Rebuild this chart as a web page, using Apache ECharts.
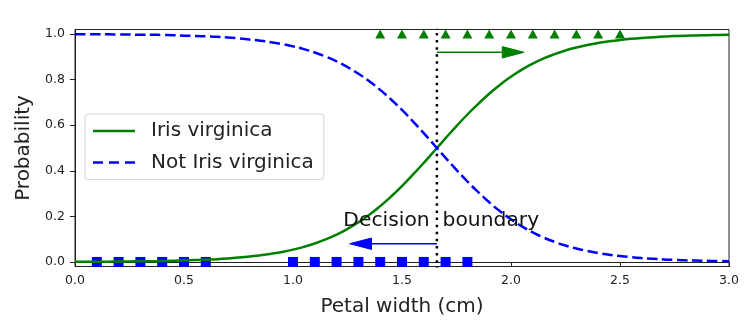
<!DOCTYPE html>
<html>
<head>
<meta charset="utf-8">
<script src="https://cdn.jsdelivr.net/npm/echarts@6/dist/echarts.min.js"></script>
<style>
  html, body { margin: 0; padding: 0; background: #fff; }
  #chart { width: 750px; height: 327px; }
</style>
</head>
<body>
<div id="chart"></div>
<script>
// Estimated probabilities of a logistic model on iris petal width
const petalWidth = [0.00, 0.05, 0.10, 0.15, 0.20, 0.25, 0.30, 0.35, 0.40, 0.45,
                    0.50, 0.55, 0.60, 0.65, 0.70, 0.75, 0.80, 0.85, 0.90, 0.95,
                    1.00, 1.05, 1.10, 1.15, 1.20, 1.25, 1.30, 1.35, 1.40, 1.45,
                    1.50, 1.55, 1.60, 1.65, 1.70, 1.75, 1.80, 1.85, 1.90, 1.95,
                    2.00, 2.05, 2.10, 2.15, 2.20, 2.25, 2.30, 2.35, 2.40, 2.45,
                    2.50, 2.55, 2.60, 2.65, 2.70, 2.75, 2.80, 2.85, 2.90, 2.95, 3.00];
const probVirginica = [0.001, 0.001, 0.001, 0.001, 0.002, 0.002, 0.003, 0.003, 0.004, 0.005,
                       0.007, 0.008, 0.010, 0.012, 0.015, 0.019, 0.024, 0.029, 0.036, 0.044,
                       0.054, 0.066, 0.081, 0.099, 0.120, 0.145, 0.174, 0.207, 0.245, 0.287,
                       0.333, 0.383, 0.435, 0.489, 0.543, 0.596, 0.647, 0.694, 0.738, 0.778,
                       0.813, 0.844, 0.870, 0.893, 0.912, 0.928, 0.941, 0.952, 0.961, 0.968,
                       0.974, 0.979, 0.983, 0.986, 0.989, 0.991, 0.993, 0.994, 0.995, 0.996, 0.997];
const probNotVirginica = [0.999, 0.999, 0.999, 0.999, 0.998, 0.998, 0.997, 0.997, 0.996, 0.995,
                          0.993, 0.992, 0.990, 0.988, 0.985, 0.981, 0.976, 0.971, 0.964, 0.956,
                          0.946, 0.934, 0.919, 0.901, 0.880, 0.855, 0.826, 0.793, 0.755, 0.713,
                          0.667, 0.617, 0.565, 0.511, 0.457, 0.404, 0.353, 0.306, 0.262, 0.222,
                          0.187, 0.156, 0.130, 0.107, 0.088, 0.072, 0.059, 0.048, 0.039, 0.032,
                          0.026, 0.021, 0.017, 0.014, 0.011, 0.009, 0.007, 0.006, 0.005, 0.004, 0.003];

// Training samples: petal widths of each class
const notVirginicaWidths = [0.1, 0.2, 0.3, 0.4, 0.5, 0.6, 1.0, 1.1, 1.2, 1.3, 1.4, 1.5, 1.6, 1.7, 1.8];
const virginicaWidths = [1.4, 1.5, 1.6, 1.7, 1.8, 1.9, 2.0, 2.1, 2.2, 2.3, 2.4, 2.5];

const decisionBoundary = 1.66;
const yTicks = [0.0, 0.2, 0.4, 0.6, 0.8, 1.0];

// Arrows: [start x, y, dx, head length, head width]
const arrowLeft = [decisionBoundary, 0.08, -0.3, 0.1, 0.05];
const arrowRight = [decisionBoundary, 0.92, 0.3, 0.1, 0.05];
const boundaryLabel = [decisionBoundary + 0.02, 0.15];

const FONT = 'DejaVu Sans';
const INK = '#222';

// Legend keys: a solid stroke and a three-dash stroke
const SOLID_KEY = 'path://M0,0H42V2.5H0Z';
const DASHED_KEY = 'path://M0,0H10V2.5H0Z M16,0H26V2.5H16Z M32,0H42V2.5H32Z';

function zip(xs, ys) { return xs.map((x, i) => [x, ys[i]]); }

function arrowRenderer(color) {
  return function (params, api) {
    const x0 = api.value(0), y = api.value(1), dx = api.value(2);
    const hl = api.value(3), hw = api.value(4);
    const dir = Math.sign(dx);
    const p0 = api.coord([x0, y]);
    const p1 = api.coord([x0 + dx, y]);
    const tip = api.coord([x0 + dx + dir * hl, y]);
    const up = api.coord([x0 + dx, y + hw / 2]);
    const dn = api.coord([x0 + dx, y - hw / 2]);
    return {
      type: 'group',
      children: [
        { type: 'line', shape: { x1: p0[0], y1: p0[1], x2: p1[0], y2: p1[1] },
          style: { stroke: color, lineWidth: 1.5 } },
        { type: 'polygon', shape: { points: [up, tip, dn] },
          style: { fill: color, stroke: color, lineWidth: 1 } }
      ]
    };
  };
}

const chart = echarts.init(document.getElementById('chart'), null, { renderer: 'canvas' });

chart.setOption({
  animation: false,
  backgroundColor: '#fff',
  textStyle: { fontFamily: FONT },
  grid: {
    left: 75, right: 21, top: 29.5, bottom: 60.5,
    show: true, borderColor: INK, borderWidth: 1, backgroundColor: 'transparent'
  },
  legend: {
    data: [
      { name: 'Iris virginica', icon: SOLID_KEY },
      { name: 'Not Iris virginica', icon: DASHED_KEY }
    ],
    orient: 'vertical',
    left: 85, top: 114,
    padding: [6, 10, 6, 8],
    itemGap: 9.5,
    itemWidth: 42,
    itemHeight: 2.5,
    backgroundColor: '#fff',
    borderColor: '#d6d6d6',
    borderWidth: 1,
    borderRadius: 3,
    textStyle: { fontFamily: FONT, fontSize: 20, color: INK, lineHeight: 22, padding: [0, 0, 0, 11] }
  },
  xAxis: {
    type: 'value',
    min: 0, max: 3, interval: 0.5,
    name: 'Petal width (cm)',
    nameLocation: 'middle',
    nameGap: 30,
    nameTextStyle: { fontFamily: FONT, fontSize: 20, color: INK },
    axisLine: { show: true, lineStyle: { color: INK, width: 1 } },
    axisTick: { show: true, length: 5, lineStyle: { color: INK } },
    axisLabel: { fontFamily: FONT, fontSize: 12.5, color: INK, margin: 8,
                 formatter: v => v.toFixed(1) },
    splitLine: { show: false }
  },
  yAxis: {
    type: 'value',
    min: -0.02, max: 1.02,
    name: 'Probability',
    nameLocation: 'middle',
    nameGap: 38,
    nameTextStyle: { fontFamily: FONT, fontSize: 20, color: INK },
    axisLine: { show: true, lineStyle: { color: INK, width: 1 } },
    axisTick: { show: true, length: 5, customValues: yTicks, lineStyle: { color: INK } },
    axisLabel: { fontFamily: FONT, fontSize: 12.5, color: INK, margin: 10,
                 customValues: yTicks, formatter: v => v.toFixed(1) },
    splitLine: { show: false }
  },
  series: [
    {
      name: 'not virginica samples',
      type: 'scatter',
      data: notVirginicaWidths.map(x => [x, 0]),
      symbol: 'rect',
      symbolSize: 10,
      itemStyle: { color: '#0000ff', opacity: 1 },
      z: 2
    },
    {
      name: 'virginica samples',
      type: 'scatter',
      data: virginicaWidths.map(x => [x, 1]),
      symbol: 'triangle',
      symbolSize: [10, 9],
      itemStyle: { color: '#008000', opacity: 1 },
      z: 2
    },
    {
      name: 'boundary',
      type: 'line',
      data: [[decisionBoundary, -1], [decisionBoundary, 2]],
      symbol: 'none',
      clip: true,
      lineStyle: { color: '#000', width: 2.5, type: [2.5, 4.6], cap: 'butt' },
      z: 3
    },
    {
      name: 'Iris virginica',
      type: 'line',
      data: zip(petalWidth, probVirginica),
      smooth: true,
      symbol: 'none',
      color: '#008000',
      itemStyle: { color: '#008000' },
      lineStyle: { color: '#008000', width: 2.5 },
      z: 4
    },
    {
      name: 'Not Iris virginica',
      type: 'line',
      data: zip(petalWidth, probNotVirginica),
      smooth: true,
      symbol: 'none',
      color: '#0000ff',
      itemStyle: { color: '#0000ff' },
      lineStyle: { color: '#0000ff', width: 2.5, type: [10.5, 4.5], cap: 'butt' },
      z: 4
    },
    {
      name: 'label',
      type: 'custom',
      data: [boundaryLabel],
      z: 5,
      renderItem(params, api) {
        const p = api.coord([api.value(0), api.value(1)]);
        return {
          type: 'text',
          style: {
            text: 'Decision  boundary',
            x: p[0], y: p[1] - 7,
            align: 'center', verticalAlign: 'middle',
            fontFamily: FONT, fontSize: 20.3, fill: '#111'
          }
        };
      }
    },
    {
      name: 'left arrow',
      type: 'custom',
      data: [arrowLeft],
      z: 6,
      renderItem: arrowRenderer('#0000ff')
    },
    {
      name: 'right arrow',
      type: 'custom',
      data: [arrowRight],
      z: 6,
      renderItem: arrowRenderer('#008000')
    }
  ]
});
</script>
</body>
</html>
